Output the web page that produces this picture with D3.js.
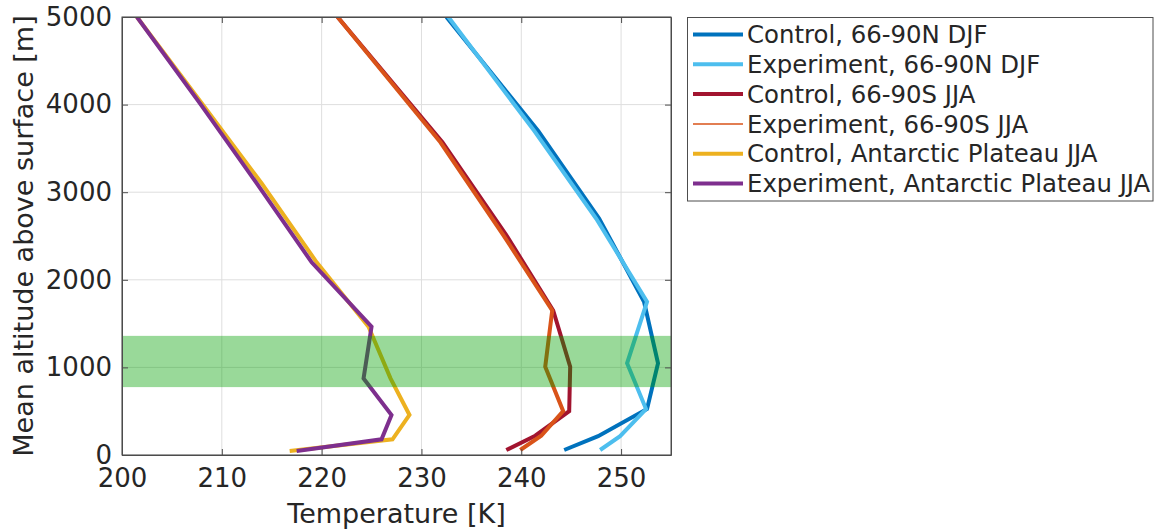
<!DOCTYPE html>
<html>
<head>
<meta charset="utf-8">
<script src="https://cdn.jsdelivr.net/npm/d3@7"></script>
<style>
  body { margin: 0; background: #fff; }
  text { font-family: "DejaVu Sans", sans-serif; fill: #262626; }
</style>
</head>
<body>
<div id="chart"></div>
<script>
// temperature profiles
var altN = [57, 215, 525, 1047, 1750, 2700, 3700, 5000]
var ctrlN = [244.3, 247.7, 252.6, 253.7, 252.3, 247.8, 241.7, 232.5]
var expN = [247.9, 249.9, 252.5, 250.6, 252.6, 247.5, 241.3, 232.7]

var altS = [57, 220, 500, 1008, 1650, 2510, 3570, 5000]
var ctrlS = [238.5, 241.4, 244.8, 244.9, 243.2, 238.5, 232.1, 221.6]
var expS = [239.9, 242.0, 244.2, 242.4, 243.1, 238.2, 231.9, 221.6]

var altA = [46, 179, 457, 875, 1465, 2200, 3100, 4000, 5000]
var ctrlA = [216.8, 227.1, 228.8, 226.9, 224.7, 219.5, 214.0, 208.1, 201.5]
var expA = [217.5, 226.0, 227.0, 224.2, 225.0, 219.0, 213.5, 207.9, 201.5]

var band = [775, 1360]

var xTicks = [200, 210, 220, 230, 240, 250]
var yTicks = [0, 1000, 2000, 3000, 4000, 5000]

var seriesNames = ["Control, 66-90N DJF", "Experiment, 66-90N DJF", "Control, 66-90S JJA",
  "Experiment, 66-90S JJA", "Control, Antarctic Plateau JJA", "Experiment, Antarctic Plateau JJA"]
var seriesColors = ["#0072BD", "#4DBEEE", "#A2142F", "#D95319", "#EDB120", "#7E2F8E"]

var series = [
  {alt: altN, t: ctrlN}, {alt: altN, t: expN},
  {alt: altS, t: ctrlS}, {alt: altS, t: expS},
  {alt: altA, t: ctrlA}, {alt: altA, t: expA}
]

var W = 1156, H = 531
var margin = {top: 17, left: 122, right: 485, bottom: 76}
var width = W - margin.left - margin.right,
    height = H - margin.top - margin.bottom

var svg = d3.select("#chart").append("svg")
  .attr("width", W).attr("height", H)

var g = svg.append("g")
  .attr("transform", "translate(" + margin.left + "," + margin.top + ")")

var x = d3.scaleLinear().domain([200, 255]).range([0, width])
var y = d3.scaleLinear().domain([0, 5000]).range([height, 0])

g.append("clipPath").attr("id", "clip")
  .append("rect").attr("width", width).attr("height", height)

// grid
g.selectAll(".vgrid").data(xTicks).enter().append("line")
  .attr("x1", function(d) { return x(d) }).attr("x2", function(d) { return x(d) })
  .attr("y1", 0).attr("y2", height)
  .attr("stroke", "#dedede").attr("stroke-width", 1)
g.selectAll(".hgrid").data(yTicks).enter().append("line")
  .attr("y1", function(d) { return y(d) }).attr("y2", function(d) { return y(d) })
  .attr("x1", 0).attr("x2", width)
  .attr("stroke", "#dedede").attr("stroke-width", 1)

// profiles
var line = d3.line()
  .x(function(d) { return x(d[0]) })
  .y(function(d) { return y(d[1]) })

var plot = g.append("g").attr("clip-path", "url(#clip)")
series.forEach(function(s, i) {
  var pts = s.t.map(function(v, k) { return [v, s.alt[k]] })
  plot.append("path")
    .attr("d", line(pts))
    .attr("fill", "none")
    .attr("stroke", seriesColors[i])
    .attr("stroke-width", 4)
    .attr("stroke-linejoin", "miter")
    .attr("stroke-miterlimit", 4)
})

// shaded layer on top
g.append("rect")
  .attr("x", 0).attr("width", width)
  .attr("y", y(band[1])).attr("height", y(band[0]) - y(band[1]))
  .attr("fill", "rgb(0,160,0)").attr("fill-opacity", 0.4)

// axes: ticks inside on all four sides
var tickLen = 6
g.append("g").attr("transform", "translate(0," + height + ")")
  .call(d3.axisBottom(x).tickValues(xTicks).tickSizeInner(-tickLen).tickSizeOuter(0).tickPadding(14))
g.append("g")
  .call(d3.axisTop(x).tickValues(xTicks).tickSizeInner(-tickLen).tickSizeOuter(0).tickFormat(""))
g.append("g")
  .call(d3.axisLeft(y).tickValues(yTicks).tickFormat(d3.format("d")).tickSizeInner(-tickLen).tickSizeOuter(0).tickPadding(10))
g.append("g").attr("transform", "translate(" + width + ",0)")
  .call(d3.axisRight(y).tickValues(yTicks).tickSizeInner(-tickLen).tickSizeOuter(0).tickFormat(""))

g.selectAll(".domain").attr("stroke", "#4d4d4d")
g.selectAll(".tick line").attr("stroke", "#4d4d4d")
g.selectAll(".tick text").style("font-size", "26px").attr("fill", "#262626")
g.append("rect").attr("width", width).attr("height", height)
  .attr("fill", "none").attr("stroke", "#4d4d4d").attr("stroke-width", 1)

// axis labels
svg.append("text")
  .attr("x", margin.left + width / 2).attr("y", 523)
  .attr("text-anchor", "middle").style("font-size", "27px")
  .text("Temperature [K]")
svg.append("text")
  .attr("transform", "translate(33," + (margin.top + height / 2) + ") rotate(-90)")
  .attr("text-anchor", "middle").style("font-size", "27px")
  .text("Mean altitude above surface [m]")

// legend
var leg = svg.append("g")
leg.append("rect")
  .attr("x", 687.5).attr("y", 17.5).attr("width", 465.5).attr("height", 183.5)
  .attr("fill", "#fff").attr("stroke", "#4d4d4d").attr("stroke-width", 1)
var rowY = d3.scaleLinear().domain([0, 5]).range([34.5, 183.5])
seriesNames.forEach(function(name, i) {
  leg.append("line")
    .attr("x1", 693).attr("x2", 743)
    .attr("y1", rowY(i)).attr("y2", rowY(i))
    .attr("stroke", seriesColors[i])
    .attr("stroke-width", i == 3 ? 1.5 : 4)
  leg.append("text")
    .attr("x", 747).attr("y", rowY(i)).attr("dy", "0.36em")
    .style("font-size", "24.4px").attr("fill", "#000")
    .text(name)
})
</script>
</body>
</html>
